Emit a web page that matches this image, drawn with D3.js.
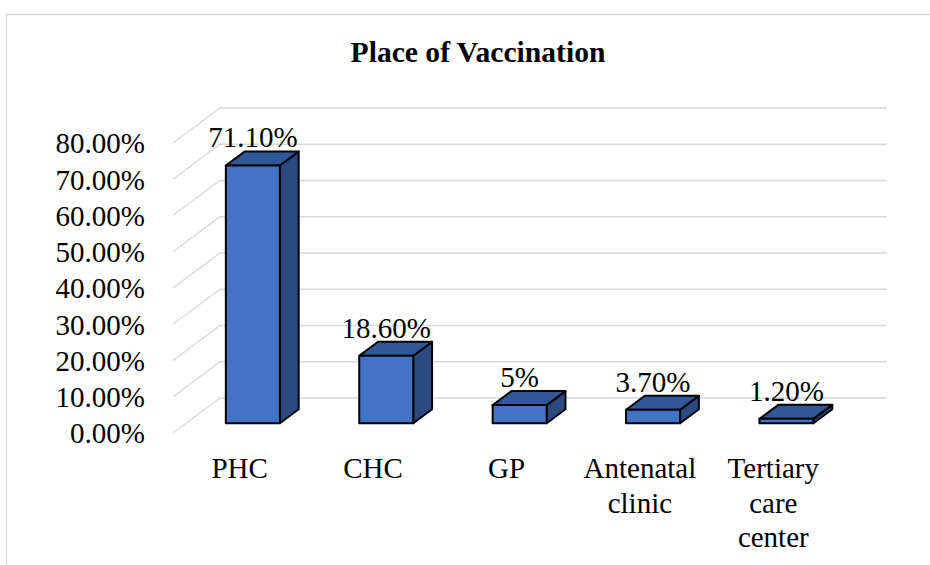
<!DOCTYPE html>
<html>
<head>
<meta charset="utf-8">
<script src="https://cdn.jsdelivr.net/npm/d3@7"></script>
<style>
  body { margin: 0; background: #fff; }
  text { font-family: "Liberation Serif", "Times New Roman", serif; fill: #000; }
</style>
</head>
<body>
<svg width="930" height="565"></svg>
<script>
// data
var categories = ["PHC", "CHC", "GP", "Antenatal clinic", "Tertiary care center"];
var values = [0.711, 0.186, 0.05, 0.037, 0.012];
var valueLabels = ["71.10%", "18.60%", "5%", "3.70%", "1.20%"];
var tickValues = [0, 0.1, 0.2, 0.3, 0.4, 0.5, 0.6, 0.7, 0.8];
var title = "Place of Vaccination";

var svg = d3.select("svg");

// 3d depth offset of the back wall, and where the bars sit in that depth
var depthX = 47, depthY = -35;
var f0 = 0.28, f1 = 0.68;

var x = d3.scaleBand().domain(categories).range([173, 840]);
var y = d3.scaleLinear().domain([0, 0.8]).range([433, 143]);
var barW = x.bandwidth() * 0.405;

// chart border
svg.append("rect")
    .attr("x", 6.5).attr("y", 14.5)
    .attr("width", 1000).attr("height", 1000)
    .attr("fill", "none")
    .attr("stroke", "#d9d9d9")
    .attr("stroke-width", 1.5);

svg.append("text")
    .attr("x", 478).attr("y", 62)
    .attr("text-anchor", "middle")
    .style("font-size", "29.6px")
    .style("font-weight", "bold")
    .text(title);

// gridlines: left wall diagonal + back wall horizontal
svg.append("g").selectAll("path")
    .data(tickValues)
    .enter()
    .append("path")
    .attr("d", function (t) {
        var x0 = x.range()[0], x1 = x.range()[1];
        return "M" + x0 + "," + y(t) +
            "L" + (x0 + depthX) + "," + (y(t) + depthY) +
            "L" + (x1 + depthX) + "," + (y(t) + depthY);
    })
    .attr("fill", "none")
    .attr("stroke", "#d9d9d9")
    .attr("stroke-width", 1.5);

// y axis
var yAxis = svg.append("g")
    .attr("transform", "translate(145,0)")
    .call(d3.axisLeft(y).tickValues(tickValues).tickFormat(d3.format(".2%")).tickSize(0).tickPadding(0));
yAxis.select(".domain").remove();
yAxis.selectAll("text")
    .attr("dy", "0.34em")
    .style("font-size", "29px")
    .style("font-family", "'Liberation Serif', 'Times New Roman', serif")
    .attr("fill", "#000");

// bars
var bars = svg.append("g").selectAll(".bar")
    .data(values)
    .enter()
    .append("g")
    .attr("class", "bar");

function pts(arr) {
    return arr.map(function (p) { return p[0] + "," + p[1]; }).join(" ");
}

function barGeom(d, i) {
    var c = categories[i];
    var x0 = x(c) + (x.bandwidth() - barW) / 2, x1 = x0 + barW;
    return { x0: x0, x1: x1, yt: y(d), yb: y(0) };
}

bars.append("polygon") // side
    .attr("points", function (d, i) {
        var g = barGeom(d, i);
        return pts([
            [g.x1 + f0 * depthX, g.yt + f0 * depthY],
            [g.x1 + f1 * depthX, g.yt + f1 * depthY],
            [g.x1 + f1 * depthX, g.yb + f1 * depthY],
            [g.x1 + f0 * depthX, g.yb + f0 * depthY]
        ]);
    })
    .attr("fill", "#2b4a80");

bars.append("polygon") // top
    .attr("points", function (d, i) {
        var g = barGeom(d, i);
        return pts([
            [g.x0 + f0 * depthX, g.yt + f0 * depthY],
            [g.x1 + f0 * depthX, g.yt + f0 * depthY],
            [g.x1 + f1 * depthX, g.yt + f1 * depthY],
            [g.x0 + f1 * depthX, g.yt + f1 * depthY]
        ]);
    })
    .attr("fill", "#30589a");

bars.append("polygon") // front
    .attr("points", function (d, i) {
        var g = barGeom(d, i);
        return pts([
            [g.x0 + f0 * depthX, g.yt + f0 * depthY],
            [g.x1 + f0 * depthX, g.yt + f0 * depthY],
            [g.x1 + f0 * depthX, g.yb + f0 * depthY],
            [g.x0 + f0 * depthX, g.yb + f0 * depthY]
        ]);
    })
    .attr("fill", "#4472c4");

bars.selectAll("polygon")
    .attr("stroke", "#000")
    .attr("stroke-width", 2)
    .attr("stroke-linejoin", "round");

// value labels
bars.append("text")
    .attr("x", function (d, i) { var g = barGeom(d, i); return g.x0 + f0 * depthX + barW / 2; })
    .attr("y", function (d, i) { var g = barGeom(d, i); return g.yt + f1 * depthY - 4; })
    .attr("text-anchor", "middle")
    .style("font-size", "29px")
    .text(function (d, i) { return valueLabels[i]; });

// category labels, wrapped to the band width
var cat = svg.append("g").selectAll("text")
    .data(categories)
    .enter()
    .append("text")
    .attr("x", function (c) { return x(c) + x.bandwidth() / 2; })
    .attr("y", 478)
    .attr("text-anchor", "middle")
    .style("font-size", "29px");

cat.each(function (c) {
    var t = d3.select(this), cx = x(c) + x.bandwidth() / 2;
    var words = c.split(" "), line = [];
    var tspan = t.append("tspan").attr("x", cx).attr("dy", 0);
    words.forEach(function (w) {
        line.push(w);
        tspan.text(line.join(" "));
        if (tspan.node().getComputedTextLength() > x.bandwidth() - 8 && line.length > 1) {
            line.pop();
            tspan.text(line.join(" "));
            line = [w];
            tspan = t.append("tspan").attr("x", cx).attr("dy", 34.5).text(w);
        }
    });
});
</script>
</body>
</html>
